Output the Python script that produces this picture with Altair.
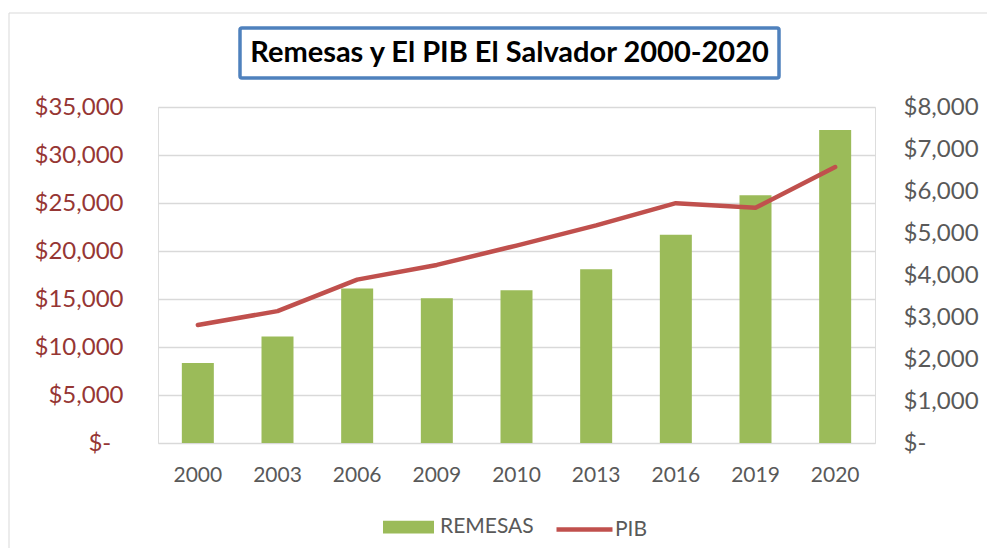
import altair as alt
import pandas as pd

years = ["2000", "2003", "2006", "2009", "2010", "2013", "2016", "2019", "2020"]
remesas = [8330, 11100, 16100, 15070, 15900, 18100, 21700, 25800, 32600]
pib = [2810, 3140, 3890, 4240, 4700, 5180, 5710, 5600, 6570]
series_bar = "REMESAS"
series_line = "PIB"
title_text = "Remesas y El PIB El Salvador 2000-2020"

df = pd.DataFrame({"year": years, "remesas": remesas, "pib": pib,
                   "serie_b": series_bar, "serie_l": series_line})
one = pd.DataFrame({"t": [title_text]})

W, H = 717, 336
FONT = "Lato"
GRAY = "#595959"
RED_LBL = "#963634"
GREEN = "#9BBB59"
RED = "#C0504D"

x = alt.X("year:N", sort=years, title=None,
          scale=alt.Scale(paddingInner=0.6, paddingOuter=0.3),
          axis=alt.Axis(labelAngle=0, labelFont=FONT, labelFontSize=21, labelColor=GRAY,
                        domain=False, ticks=False, tickSize=0, labelPadding=32,
                        labelBaseline="middle", grid=False))

rect_path = "M-1,-0.25H1V0.25H-1Z"

legend_b = alt.Legend(
    title=None, orient="none", legendX=225, legendY=394.5,
    labelFont=FONT, labelFontSize=21, labelColor=GRAY, symbolSize=2601,
    labelOffset=6, symbolType=rect_path, symbolOpacity=1, symbolStrokeWidth=0)

legend_l = alt.Legend(
    title=None, orient="none", legendX=396, legendY=392,
    labelFont=FONT, labelFontSize=21, labelColor=GRAY, symbolSize=3136,
    labelOffset=0, symbolType="stroke", symbolStrokeWidth=4.5, symbolOpacity=1)

bars = alt.Chart(df).mark_bar(size=32).encode(
    x=x,
    y=alt.Y("remesas:Q", title=None,
            scale=alt.Scale(domain=[0, 35000], nice=False),
            axis=alt.Axis(values=list(range(0, 35001, 5000)), labelFont=FONT, labelFontSize=24,
                          labelColor=RED_LBL, domain=False, ticks=False, tickSize=0,
                          labelPadding=35, grid=True, gridColor="#D9D9D9", gridWidth=1.3,
                          labelExpr="datum.value == 0 ? '$-\u00a0\u00a0\u200b' : '$' + format(datum.value, ',')")),
    color=alt.Color("serie_b:N", scale=alt.Scale(domain=[series_bar], range=[GREEN]), legend=legend_b),
)

line = alt.Chart(df).mark_line(strokeWidth=4.5, strokeCap="round", strokeJoin="round").encode(
    x=x,
    y=alt.Y("pib:Q", title=None,
            scale=alt.Scale(domain=[0, 8000], nice=False),
            axis=alt.Axis(orient="right", values=list(range(0, 8001, 1000)), labelFont=FONT,
                          labelFontSize=24, labelColor=GRAY, domain=False, ticks=False, tickSize=0,
                          labelPadding=28, grid=False,
                          labelExpr="datum.value == 0 ? '$-' : '$' + format(datum.value, ',')")),
    stroke=alt.Stroke("serie_l:N", scale=alt.Scale(domain=[series_line], range=[RED]), legend=legend_l),
)

outer = alt.Chart(one).mark_rect(fill="transparent", stroke="#D9D9D9", strokeWidth=1).encode(
    x=alt.value(-149), x2=alt.value(900), y=alt.value(-94), y2=alt.value(600))

title_box = alt.Chart(one).mark_rect(fill="white", stroke="#4F81BD", strokeWidth=3.5, cornerRadius=2).encode(
    x=alt.value(82), x2=alt.value(621), y=alt.value(-79), y2=alt.value(-29))

title = alt.Chart(one).mark_text(font=FONT, fontSize=29, fontWeight="bold", color="black",
                                 align="center", baseline="middle").encode(
    x=alt.value(351.5), y=alt.value(-54), text="t:N")

chart = alt.layer(outer, title_box, title, bars, line).resolve_scale(y="independent").properties(
    width=W, height=H,
    padding={"left": 150, "top": 99, "right": 112, "bottom": 105},
    autosize=alt.AutoSizeParams(type="none"),
).configure_view(stroke=None).configure(background="white")

chart.save("out.html", embed_options={"renderer": "svg", "actions": False})
